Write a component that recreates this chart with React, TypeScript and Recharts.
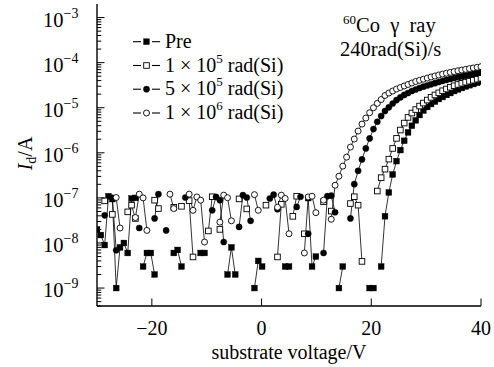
import React from "react";
import { LineChart, Line, XAxis, YAxis } from "recharts";

const N = null;

// substrate voltage (V)
const voltage = [
  -30, -29.3, -28.6, -27.9, -27.2, -26.5, -25.8, -25.1, -24.4, -23.7,
  -23, -22.3, -21.6, -20.9, -20.2, -19.5, -18.8, -18.1, -17.4, -16.7,
  -16, -15.3, -14.6, -13.9, -13.2, -12.5, -11.8, -11.1, -10.4, -9.7,
  -9, -8.3, -7.6, -6.9, -6.2, -5.5, -4.8, -4.1, -3.4, -2.7,
  -2, -1.3, -0.6, 0.1, 0.8, 1.5, 2.2, 2.9, 3.6, 4.3,
  5, 5.7, 6.4, 7.1, 7.8, 8.5, 9.2, 9.9, 10.6, 11.3,
  12, 12.7, 13.4, 14.1, 14.8, 15.5, 16.2, 16.9, 17.6, 18.3,
  19, 19.7, 20.4, 21.1, 21.8, 22.5, 23.2, 23.9, 24.6, 25.3,
  26, 26.7, 27.4, 28.1, 28.8, 29.5, 30.2, 30.9, 31.6, 32.3,
  33, 33.7, 34.4, 35.1, 35.8, 36.5, 37.2, 37.9, 38.6, 39.3,
  40,
];

// Id (A), Pre
const pre = [
  2e-8, 1.5e-8, 9e-9, 1.09e-7, 9.4e-8, 1e-9, 8e-9, 1e-8, 6e-9, 9.7e-8,
  1.0e-7, N, 3e-9, 6e-9, 6e-9, 2e-9, N, N, N, N,
  6e-9, 7e-9, 3e-9, N, N, N, N, 6e-9, 6e-9, N,
  N, N, N, N, 2e-9, 8e-9, 2e-9, N, N, N,
  N, 1e-9, 4e-9, 3e-9, N, N, N, N, N, 3e-9,
  3e-9, N, N, N, N, 9.9e-8, 3e-9, 5e-9, N, N,
  N, N, N, 1e-9, 3e-9, N, N, N, N, N,
  N, 1e-9, 1e-9, N, 3e-9, 3.92e-8, 1.32e-7, 3.31e-7, 6.54e-7, 1.15e-6,
  1.85e-6, 2.84e-6, 3.98e-6, 5.25e-6, 6.88e-6, 8.67e-6, 1.04e-5, 1.21e-5, 1.37e-5, 1.56e-5,
  1.73e-5, 1.92e-5, 2.12e-5, 2.35e-5, 2.54e-5, 2.74e-5, 2.96e-5, 3.16e-5, 3.36e-5, 3.58e-5,
  3.78e-5,
];

// Id (A), 1x10^5 rad(Si)
const dose1e5 = [
  N, N, 8.6e-8, N, 4.3e-8, N, N, N, 4.9e-8, 6.9e-8,
  3.5e-8, N, N, N, N, 8.9e-8, 5.8e-8, N, N, N,
  6.2e-8, N, 6.5e-8, N, 8.7e-8, 4.9e-9, N, N, N, 1.85e-8,
  1.06e-7, N, 2.0e-8, N, N, N, N, 9.5e-8, N, 5.7e-8,
  N, N, N, N, 6.9e-8, N, N, 4.9e-9, 7.2e-8, N,
  N, 3.9e-8, 1.09e-7, N, 1.6e-8, N, N, N, N, 8.2e-8,
  N, 5.1e-8, N, N, N, N, 7.5e-8, 1.06e-7, 6.9e-8, 3.9e-9,
  N, N, N, 1.42e-7, 2.81e-7, 4.34e-7, 7.24e-7, 1.25e-6, 2.09e-6, 3.2e-6,
  4.57e-6, 6.1e-6, 7.62e-6, 9.12e-6, 1.09e-5, 1.27e-5, 1.48e-5, 1.7e-5, 1.92e-5, 2.14e-5,
  2.38e-5, 2.6e-5, 2.84e-5, 3.07e-5, 3.28e-5, 3.49e-5, 3.69e-5, 3.88e-5, 4.08e-5, 4.3e-5,
  4.5e-5,
];

// Id (A), 5x10^5 rad(Si)
const dose5e5 = [
  N, N, 4.1e-8, N, 1.0e-7, 6.9e-9, N, N, N, N,
  N, 2.15e-8, N, N, N, 3.5e-8, 1.21e-7, N, 1.9e-8, N,
  N, N, N, 1.02e-7, N, N, N, N, N, N,
  5.3e-8, 1.05e-7, 8.9e-8, 1.05e-8, N, N, N, 2.27e-8, 1.15e-7, 1.02e-7,
  3.1e-8, N, N, N, N, 9.7e-8, 1.18e-7, 5.6e-8, N, N,
  N, N, 6.3e-8, 1.06e-7, N, 1.6e-8, N, N, N, 6.0e-9,
  1.09e-7, 1.12e-7, 4.8e-8, N, N, N, 3.5e-8, 2.02e-7, 3.98e-7, 7.13e-7,
  1.25e-6, 2.09e-6, 3.36e-6, 4.89e-6, 6.54e-6, 8.45e-6, 1.02e-5, 1.24e-5, 1.48e-5, 1.69e-5,
  1.92e-5, 2.12e-5, 2.35e-5, 2.54e-5, 2.74e-5, 2.93e-5, 3.11e-5, 3.31e-5, 3.5e-5, 3.72e-5,
  3.92e-5, 4.13e-5, 4.34e-5, 4.57e-5, 4.76e-5, 4.96e-5, 5.16e-5, 5.38e-5, 5.61e-5, 5.84e-5,
  6.06e-5,
];

// Id (A), 1x10^6 rad(Si)
const dose1e6 = [
  N, N, N, N, N, 1.02e-7, 2.15e-8, N, N, N,
  3.67e-8, 1.21e-7, 1.0e-7, 1.9e-8, N, N, N, N, N, 1.21e-7,
  5.8e-8, N, N, N, 1.21e-7, 5.3e-8, 1.05e-7, 8.9e-8, 1.05e-8, N,
  N, N, 2.9e-8, 1.15e-7, 1.01e-7, 3.1e-8, N, N, N, N,
  N, 1.18e-7, 5.3e-8, N, N, N, N, 6.2e-8, 1.15e-7, 9.7e-8,
  1.6e-8, N, N, N, 6.0e-9, 1.05e-7, 1.09e-7, 4.7e-8, N, 8.9e-8,
  N, 3.36e-8, 1.91e-7, 3.03e-7, 5.06e-7, 8.02e-7, 1.34e-6, 2.02e-6, 3.04e-6, 4.34e-6,
  5.9e-6, 7.74e-6, 1.0e-5, 1.25e-5, 1.52e-5, 1.87e-5, 2.12e-5, 2.35e-5, 2.6e-5, 2.81e-5,
  3.04e-5, 3.28e-5, 3.54e-5, 3.82e-5, 4.06e-5, 4.3e-5, 4.55e-5, 4.81e-5, 5.06e-5, 5.33e-5,
  5.58e-5, 5.84e-5, 6.09e-5, 6.34e-5, 6.61e-5, 6.85e-5, 7.1e-5, 7.36e-5, 7.62e-5, 7.9e-5,
  8.15e-5,
];

const xTicks = [-20, 0, 20, 40];
const xTickLabels = ["−20", "0", "20", "40"];
const yMajorTicks = [1e-9, 1e-8, 1e-7, 1e-6, 1e-5, 1e-4, 1e-3];
const yMajorExponents = ["−9", "−8", "−7", "−6", "−5", "−4", "−3"];
const yMinorMultipliers = [2, 3, 4, 5, 6, 7, 8, 9];
const yDomain = [4e-10, 2e-3];
const xDomain = [-30, 40];

const legendItems = [
  { key: "pre", text: "Pre", sup: "", tail: "", shape: "square", filled: true },
  { key: "d1", text: "1 × 10", sup: "5", tail: " rad(Si)", shape: "square", filled: false },
  { key: "d5", text: "5 × 10", sup: "5", tail: " rad(Si)", shape: "circle", filled: true },
  { key: "d6", text: "1 × 10", sup: "6", tail: " rad(Si)", shape: "circle", filled: false },
];

const FONT = "'Liberation Serif', 'Times New Roman', serif";
const W = 494;
const H = 367;
const MARGIN = { top: 4, right: 13, bottom: 0, left: 0 };
const Y_AXIS_W = 97;
const X_AXIS_H = 61;
const PLOT_LEFT = MARGIN.left + Y_AXIS_W;
const PLOT_BOTTOM = H - MARGIN.bottom - X_AXIS_H;
const PLOT_RIGHT = W - MARGIN.right;

const allYTicks: number[] = [];
yMajorTicks.forEach((m) => {
  allYTicks.push(m);
});
[1e-10, 1e-9, 1e-8, 1e-7, 1e-6, 1e-5, 1e-4].forEach((dec) => {
  yMinorMultipliers.forEach((k) => {
    const v = dec * k;
    if (v > yDomain[0] * 0.999 && v < yDomain[1] * 0.999) allYTicks.push(v);
  });
});
allYTicks.sort((a, b) => a - b);

const data = voltage.map((v, i) => ({
  v,
  pre: pre[i],
  d1: dose1e5[i],
  d5: dose5e5[i],
  d6: dose1e6[i],
}));

function Marker({ cx, cy, shape, filled }: { cx: number; cy: number; shape: string; filled: boolean }) {
  if (shape === "square") {
    const s = filled ? 5.8 : 5.6;
    return (
      <rect
        x={cx - s / 2}
        y={cy - s / 2}
        width={s}
        height={s}
        fill={filled ? "#000" : "#fff"}
        stroke="#000"
        strokeWidth={filled ? 0.4 : 0.9}
      />
    );
  }
  return <circle cx={cx} cy={cy} r={filled ? 3.1 : 3} fill={filled ? "#000" : "#fff"} stroke="#000" strokeWidth={filled ? 0.4 : 0.9} />;
}

const makeDot = (shape: string, filled: boolean) => (props: any) => {
  const { cx, cy, index, value } = props;
  if (value == null || cx == null || cy == null || isNaN(cy)) return <g key={`e-${index}`} />;
  return (
    <g key={`d-${index}`}>
      <Marker cx={cx} cy={cy} shape={shape} filled={filled} />
    </g>
  );
};

function YTick(props: any) {
  const { y, payload } = props;
  const v = payload.value;
  const mi = yMajorTicks.findIndex((m) => Math.abs(m - v) / m < 1e-6);
  const major = mi >= 0;
  return (
    <g>
      <line x1={PLOT_LEFT} x2={PLOT_LEFT + (major ? 7.5 : 4.3)} y1={y} y2={y} stroke="#000" strokeWidth={1} />
      {major && (
        <text x={43} y={y + 9} fontFamily={FONT} fontSize={20.5} fill="#000">
          10
          <tspan dy={-9} fontSize={14}>
            {yMajorExponents[mi]}
          </tspan>
        </text>
      )}
    </g>
  );
}

function XTick(props: any) {
  const { x, payload } = props;
  const i = xTicks.indexOf(payload.value);
  return (
    <g>
      <line x1={x} x2={x} y1={PLOT_BOTTOM} y2={PLOT_BOTTOM - 7.5} stroke="#000" strokeWidth={1} />
      <text x={x} y={335} textAnchor="middle" fontFamily={FONT} fontSize={20} fill="#000">
        {xTickLabels[i]}
      </text>
    </g>
  );
}

const series = [
  { key: "pre", shape: "square", filled: true },
  { key: "d1", shape: "square", filled: false },
  { key: "d5", shape: "circle", filled: true },
  { key: "d6", shape: "circle", filled: false },
];

export default function App() {
  const legendBaselines = [47.7, 71.5, 95.2, 119];
  return (
    <div style={{ position: "absolute", left: 0, top: 0, width: W, height: H, background: "#fff" }}>
      <LineChart width={W} height={H} data={data} margin={MARGIN}>
        <XAxis
          dataKey="v"
          type="number"
          domain={xDomain}
          ticks={xTicks}
          interval={0}
          tick={<XTick />}
          tickLine={false}
          axisLine={{ stroke: "#000", strokeWidth: 1.4 }}
          height={X_AXIS_H}
          allowDataOverflow
        />
        <XAxis
          xAxisId="top"
          orientation="top"
          type="number"
          domain={xDomain}
          tick={false}
          tickLine={false}
          axisLine={{ stroke: "#000", strokeWidth: 1.4 }}
          height={0}
        />
        <YAxis
          type="number"
          scale="log"
          domain={yDomain}
          ticks={allYTicks}
          interval={0}
          tick={<YTick />}
          tickLine={false}
          axisLine={{ stroke: "#000", strokeWidth: 1.4 }}
          width={Y_AXIS_W}
          allowDataOverflow
        />
        <YAxis
          yAxisId="right"
          orientation="right"
          type="number"
          domain={[0, 1]}
          tick={false}
          tickLine={false}
          axisLine={{ stroke: "#000", strokeWidth: 1.4 }}
          width={0}
        />
        {series.map((s) => (
          <Line
            key={s.key}
            dataKey={s.key}
            stroke="#000"
            strokeWidth={0.8}
            connectNulls={false}
            isAnimationActive={false}
            dot={makeDot(s.shape, s.filled)}
            activeDot={false}
          />
        ))}
      </LineChart>
      <svg
        width={W}
        height={H}
        style={{ position: "absolute", left: 0, top: 0, pointerEvents: "none" }}
        fontFamily={FONT}
      >
        {legendItems.map((it, i) => {
          const base = legendBaselines[i];
          const cy = base - 6;
          return (
            <g key={it.key}>
              <line x1={133} x2={141} y1={cy} y2={cy} stroke="#000" strokeWidth={1.1} />
              <line x1={152} x2={160} y1={cy} y2={cy} stroke="#000" strokeWidth={1.1} />
              <Marker cx={146.5} cy={cy} shape={it.shape} filled={it.filled} />
              <text x={165} y={base} fontSize={20} fill="#000">
                {it.text}
                {it.sup && (
                  <tspan dy={-9} fontSize={13}>
                    {it.sup}
                  </tspan>
                )}
                {it.tail && <tspan dy={it.sup ? 9 : 0}>{it.tail}</tspan>}
              </text>
            </g>
          );
        })}
        <text x={343} y={31.5} fontSize={20.5} fill="#000">
          <tspan dy={-8} fontSize={13}>
            60
          </tspan>
          <tspan dy={8}>{"Co\u2002γ\u2002ray"}</tspan>
        </text>
        <text x={340} y={56} fontSize={20.5} fill="#000">
          240rad(Si)/s
        </text>
        <text
          x={(PLOT_LEFT + PLOT_RIGHT) / 2}
          y={359}
          textAnchor="middle"
          fontSize={20}
          fill="#000"
        >
          substrate voltage/V
        </text>
        <text transform="translate(32,153.5) rotate(-90)" textAnchor="middle" fontSize={20} fill="#000">
          <tspan fontStyle="italic">I</tspan>
          <tspan fontSize={14} dy={4}>
            d
          </tspan>
          <tspan dy={-4}>/A</tspan>
        </text>
      </svg>
    </div>
  );
}
